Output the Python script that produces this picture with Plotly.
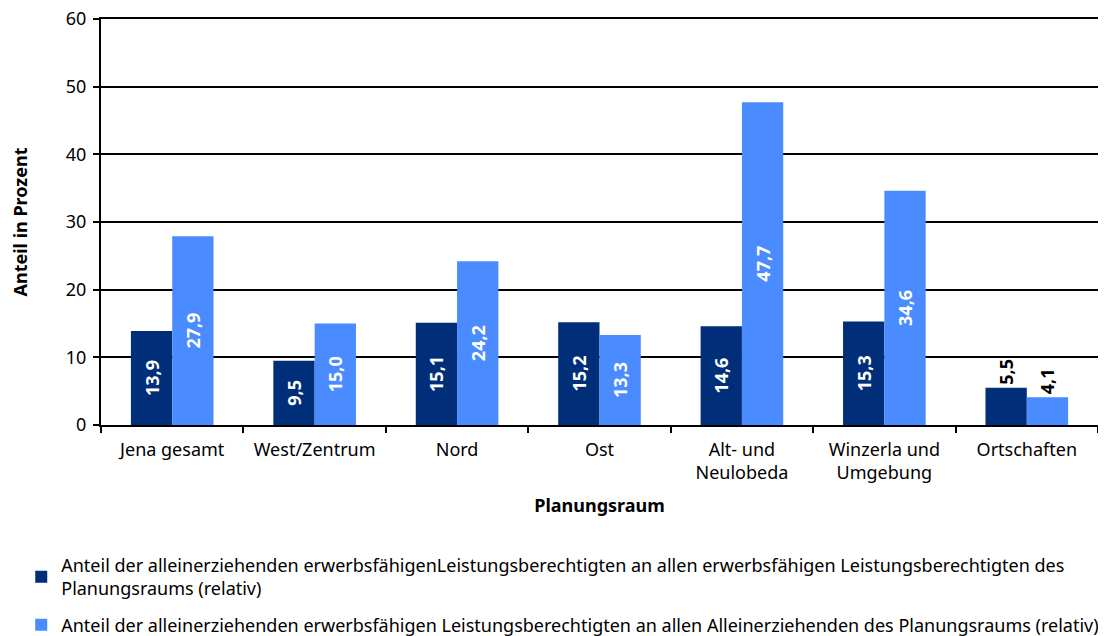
import plotly.graph_objects as go

categories = ["Jena gesamt", "West/Zentrum", "Nord", "Ost", "Alt- und<br>Neulobeda",
              "Winzerla und<br>Umgebung", "Ortschaften"]
series1_name = ("Anteil der alleinerziehenden erwerbsfähigenLeistungsberechtigten an allen "
                "erwerbsfähigen Leistungsberechtigten des<br>Planungsraums (relativ)")
series2_name = ("Anteil der alleinerziehenden erwerbsfähigen Leistungsberechtigten an allen "
                "Alleinerziehenden des Planungsraums (relativ)")
series1 = [13.9, 9.5, 15.1, 15.2, 14.6, 15.3, 5.5]
series2 = [27.9, 15.0, 24.2, 13.3, 47.7, 34.6, 4.1]
y_ticks = [0, 10, 20, 30, 40, 50, 60]

FONT = "Noto Sans"
FS = 18
dark = "#002E78"
light = "#4A8BFF"


def fmt(v):
    return f"{v:.1f}".replace(".", ",")


positions = ["inside"] * 6 + ["outside"]

fig = go.Figure()
for name, vals, col, grp in [(series1_name, series1, dark, "a"), (series2_name, series2, light, "b")]:
    fig.add_trace(go.Bar(
        x=categories, y=vals, name=name, marker=dict(color=col, line=dict(width=0)),
        text=[fmt(v) for v in vals], textposition=positions, textangle=-90,
        insidetextanchor="middle", constraintext="none", cliponaxis=False,
        insidetextfont=dict(color="white", size=18, family=FONT, weight="bold"),
        outsidetextfont=dict(color="black", size=18, family=FONT, weight="bold"),
        legendgroup=grp,
    ))

# the page body adds an 8px offset, so the figure is 8px smaller than the window
fig.update_layout(
    width=1098, height=628,
    margin=dict(l=93, r=8, t=11, b=211, autoexpand=False),
    paper_bgcolor="white", plot_bgcolor="white",
    barmode="group", bargap=0.42, bargroupgap=0,
    font=dict(family=FONT, size=FS, color="black"),
    legend=dict(orientation="v", x=-0.080, xanchor="left", y=-0.30, yanchor="top",
                font=dict(size=FS, family=FONT), tracegroupgap=10, maxheight=600,
                itemwidth=30, traceorder="grouped"),
    xaxis=dict(showline=True, linecolor="black", linewidth=2, mirror=True, automargin=False,
               ticks="outside", tickson="boundaries", ticklen=6, tickwidth=2, tickcolor="black",
               tickfont=dict(size=FS), ticklabelstandoff=7,
               title=dict(text="<b>Planungsraum</b>", font=dict(size=FS), standoff=16)),
    yaxis=dict(range=[0, 60], tickvals=y_ticks, showline=True, linecolor="black", linewidth=2,
               mirror=True, showgrid=True, gridcolor="black", gridwidth=1.5, automargin=False,
               ticks="outside", ticklen=6, tickwidth=2, tickcolor="black",
               tickfont=dict(size=FS), zeroline=False, ticklabelstandoff=3,
               ticklabeloverflow="allow",
               title=dict(text="<b>Anteil in Prozent</b>", font=dict(size=FS), standoff=36)),
)

fig.write_html("out.html")
